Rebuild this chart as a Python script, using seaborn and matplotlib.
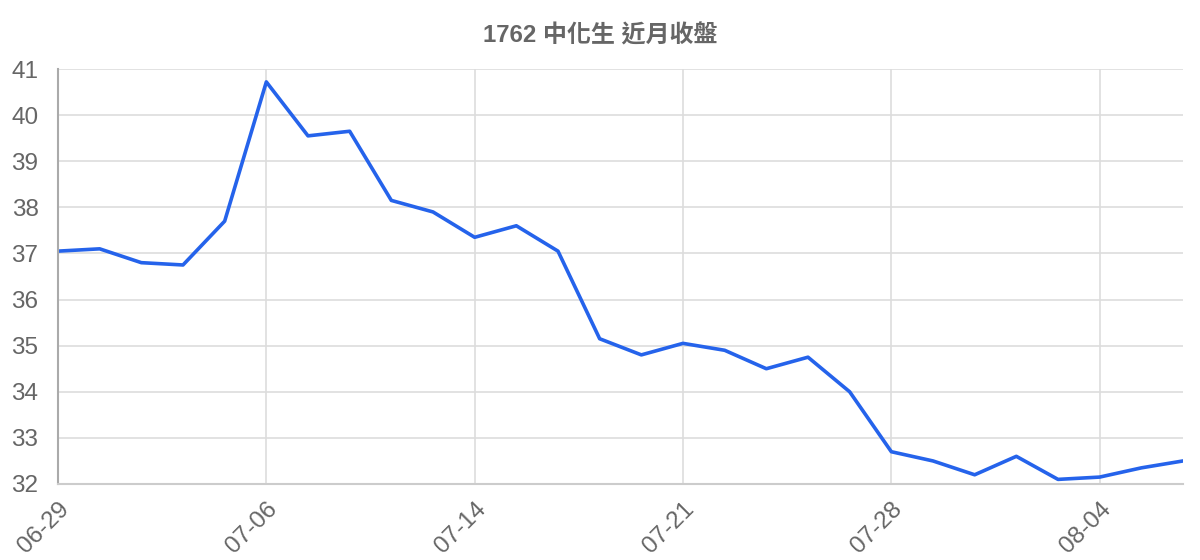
import numpy as np
import pandas as pd
import matplotlib
matplotlib.use("Agg")
import matplotlib.pyplot as plt
import seaborn as sns

# trading days (MM-DD) and near-month closing prices
dates = ["06-29", "06-30", "07-01", "07-02", "07-05", "07-06", "07-07",
         "07-08", "07-12", "07-13", "07-14", "07-15", "07-16", "07-19",
         "07-20", "07-21", "07-22", "07-23", "07-26", "07-27", "07-28",
         "07-29", "07-30", "08-02", "08-03", "08-04", "08-05", "08-06"]
close = [37.05, 37.1, 36.8, 36.75, 37.7, 40.72, 39.55,
         39.65, 38.15, 37.9, 37.35, 37.6, 37.05, 35.15,
         34.8, 35.05, 34.9, 34.5, 34.75, 34.0, 32.7,
         32.5, 32.2, 32.6, 32.1, 32.15, 32.35, 32.5]
y_ticks = [32, 33, 34, 35, 36, 37, 38, 39, 40, 41]

df = pd.DataFrame({"idx": np.arange(len(dates)), "date": dates, "close": close})

sns.set_theme(style="white")
plt.rcParams["font.family"] = ["Liberation Sans", "Noto Sans CJK TC", "DejaVu Sans"]

fig = plt.figure(figsize=(12, 5.6), dpi=100)
ax = fig.add_axes([58 / 1200, 76 / 560, (1183 - 58) / 1200, (484 - 69) / 560])

sns.lineplot(data=df, x="idx", y="close", ax=ax, color="#2563eb", linewidth=2.6)

grid_c = "#dddddd"
ax.set_xlim(0, len(dates) - 1)
ax.set_ylim(32, 41)
ax.set_yticks(y_ticks)
ax.set_yticklabels([str(v) for v in y_ticks])
tick_pos = list(range(0, len(dates), 5))
ax.set_xticks(tick_pos)
ax.set_xticklabels([dates[i] for i in tick_pos], rotation=45, ha="right",
                   rotation_mode="anchor")
ax.grid(True, color=grid_c, linewidth=1.2)
ax.tick_params(axis="both", colors=grid_c, labelcolor="#666666",
               labelsize=17.5, width=1.2)
ax.tick_params(axis="y", length=13, pad=1)
ax.tick_params(axis="x", length=10, pad=0)
for s in ["top", "right"]:
    ax.spines[s].set_visible(False)
ax.spines["left"].set_color("#aaaaaa")
ax.spines["left"].set_linewidth(1.5)
ax.spines["bottom"].set_color("#cccccc")
ax.spines["bottom"].set_linewidth(1.5)
ax.set_xlabel("")
ax.set_ylabel("")

fig.text(0.5, 1 - 36 / 560, "1762 中化生 近月收盤", ha="center", va="center",
         fontsize=17.3, fontweight="bold", color="#666666")

fig.savefig("out.png", dpi=100)
